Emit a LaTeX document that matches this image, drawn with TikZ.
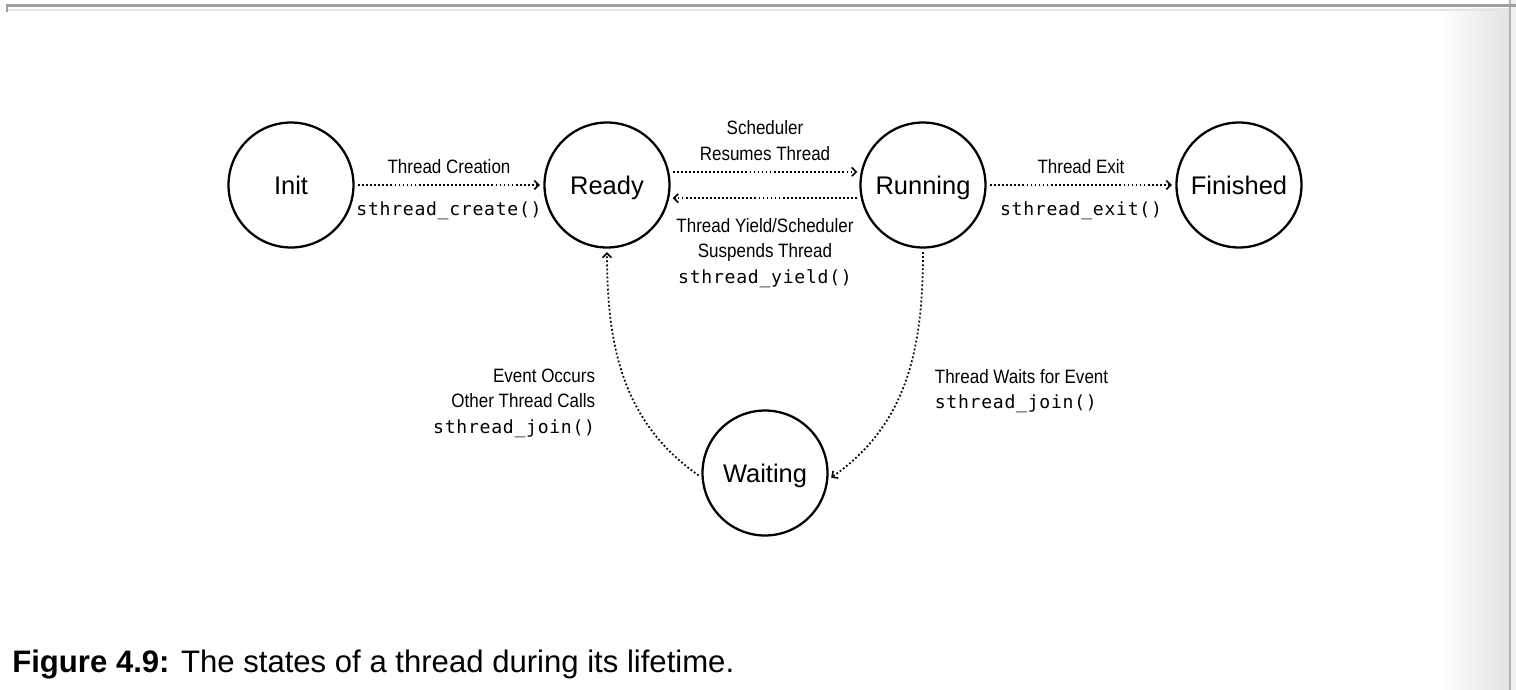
\documentclass[tikz,border=0pt]{standalone}
\usepackage{fontspec}
\setmainfont{Liberation Sans}
\newfontfamily\condfont[FakeStretch=0.88]{Liberation Sans}
\newfontfamily\codefont[LetterSpace=4]{DejaVu Sans Mono}
\usepackage{tikz}
\usetikzlibrary{positioning, arrows.meta, shadings}

\newcommand{\fn}[1]{{\codefont\fontsize{10.3}{14.5}\selectfont #1}}

\begin{document}
\begin{tikzpicture}[
  x=0.02cm, y=-0.02cm,
  state/.style={circle, draw, line width=1.3pt, minimum size=2.5cm, inner sep=0pt,
    text height=10.4pt, text depth=0pt, font=\fontsize{14.5}{17}\selectfont},
  trans/.style={-{Straight Barb[length=2.5pt, width=5pt, line width=0.9pt]},
    line width=1pt, dash pattern=on 1pt off 1.3pt, shorten <=2pt, shorten >=2pt},
  lbl/.style={font=\condfont\fontsize{11}{14.5}\selectfont, align=center, inner sep=2pt},
]
\useasboundingbox (0,0) rectangle (1516,690);

% window frame
\shade[left color=white, right color=gray!22] (1440,8) rectangle (1509,690);
\fill[gray!12] (1511,0) rectangle (1516,690);
\draw[gray!60, line width=1pt] (1510,0) -- (1510,690);
\draw[gray!20, line width=1.2pt] (8,10) -- (1509,10);
\draw[gray!75, line width=1.3pt] (7,12) -- (7,5.5) -- (1516,5.5);

% states
\node[state] (init) at (291,185) {Init};
\node[state] (ready) at (607,185) {Ready};
\node[state] (running) at (923,185) {Running};
\node[state] (finished) at (1239,185) {Finished};
\node[state] (waiting) at (765,473) {Waiting};

% transitions
\draw[trans] (init) -- node[lbl, above=4pt] {Thread Creation}
  node[lbl, below=7pt] {\fn{sthread\_create()}} (ready);
\draw[trans] (ready.12) -- node[lbl, above=4pt] {Scheduler\\Resumes Thread} (running.168);
\draw[trans] (running.-168) -- node[lbl, below=9pt]
  {Thread Yield/Scheduler\\Suspends Thread\\\fn{sthread\_yield()}} (ready.-12);
\draw[trans] (running) -- node[lbl, above=4pt] {Thread Exit}
  node[lbl, below=7pt] {\fn{sthread\_exit()}} (finished);
\draw[trans] (running.south) to[out=-90, in=35] (waiting.-6);
\draw[trans] (waiting.184) to[out=145, in=-90] (ready.south);

% labels of the curved transitions
\node[lbl, align=right, anchor=east] (occurs) at (599,403)
  {Event Occurs\\Other Thread Calls\\\fn{sthread\_join()}};
\node[lbl, align=left, anchor=west] (waits) at (931,391)
  {Thread Waits for Event\\\fn{sthread\_join()}};

% caption
\node[anchor=base west, inner sep=0pt, font=\fontsize{17.7}{20}\selectfont] (caption) at (12,672)
  {\textbf{Figure 4.9:} The states of a thread during its lifetime.};
\end{tikzpicture}
\end{document}
